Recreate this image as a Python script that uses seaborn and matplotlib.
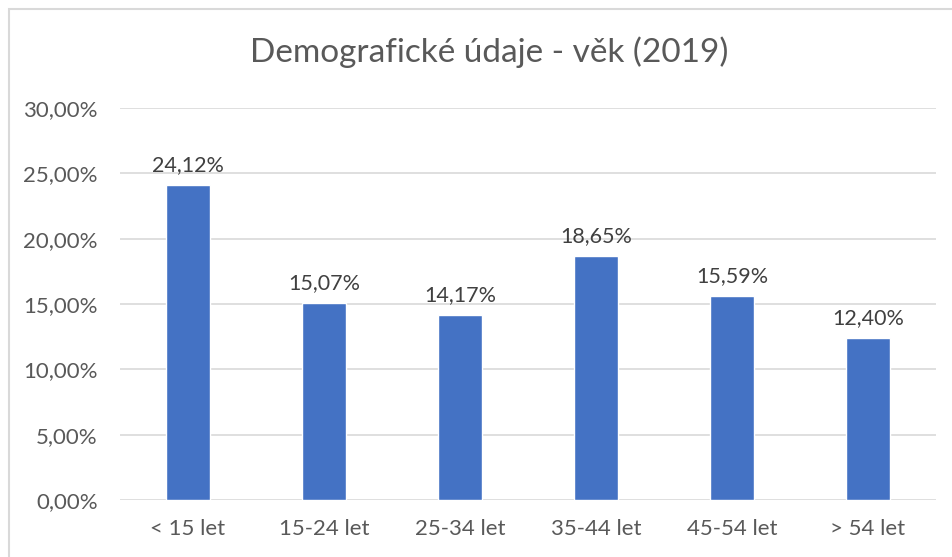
# Demographic age breakdown bar chart (Excel-style)

import matplotlib.pyplot as plt
import pandas as pd
import seaborn as sns
from matplotlib.patches import Rectangle
from matplotlib.ticker import FuncFormatter

categories = ["< 15 let", "15-24 let", "25-34 let", "35-44 let", "45-54 let", "> 54 let"]
shares = [24.12, 15.07, 14.17, 18.65, 15.59, 12.40]
y_ticks = [0, 5, 10, 15, 20, 25, 30]

df = pd.DataFrame({"vek": categories, "podil": shares})

sns.set_style("white")
plt.rcParams["font.family"] = ["Lato", "DejaVu Sans"]

fig = plt.figure(figsize=(9.52, 5.57), dpi=100)
ax = fig.add_axes([120 / 952, 1 - 500 / 557, 816 / 952, 392 / 557])

sns.barplot(data=df, x="vek", y="podil", color="#4472C4", width=0.32,
            saturation=1, ax=ax, zorder=3)

# Data labels above bars
for i, v in enumerate(shares):
    ax.text(i, v + 0.75, f"{v:.2f}%".replace(".", ","), ha="center", va="bottom",
            fontsize=15.5, color="#404040")

ax.set_ylim(0, 30)
ax.set_yticks(y_ticks)
ax.yaxis.set_major_formatter(FuncFormatter(lambda v, _: f"{v:.2f}%".replace(".", ",")))
ax.grid(axis="y", color="#d9d9d9", linewidth=1.2, zorder=0)
ax.set_xlim(-0.5, len(categories) - 0.5)
ax.set_xlabel("")
ax.set_ylabel("")
ax.tick_params(axis="both", length=0, labelsize=16, labelcolor="#595959")
ax.tick_params(axis="y", pad=16)
ax.tick_params(axis="x", pad=14)
for s in ax.spines.values():
    s.set_visible(False)

fig.text(489 / 952, 1 - 52 / 557, "Demografické údaje - věk (2019)", ha="center",
         va="center", fontsize=24, color="#595959")

# Chart border (cropped at right and bottom)
fig.patches.append(Rectangle((9 / 952, -0.1), 2, 1 - 9 / 557 + 0.1,
                             transform=fig.transFigure, fill=False,
                             edgecolor="#d9d9d9", linewidth=1.5))

fig.savefig("out.png", dpi=100)
